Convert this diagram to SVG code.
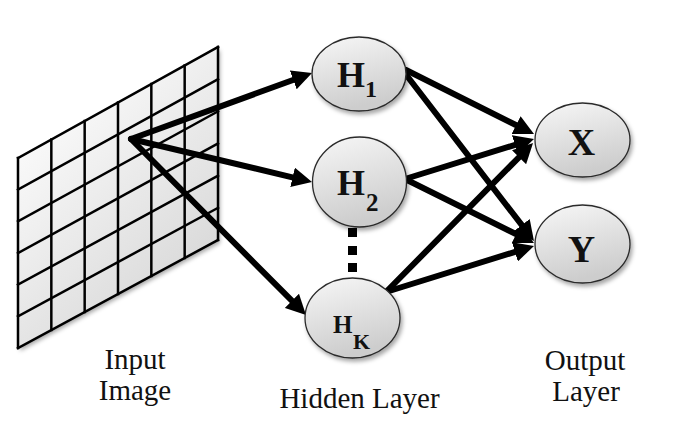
<svg xmlns="http://www.w3.org/2000/svg" width="674" height="448" viewBox="0 0 674 448">
  <defs>
    <linearGradient id="nodeFill" x1="0" y1="0" x2="0.3" y2="1">
      <stop offset="0" stop-color="#f7f7f7"/>
      <stop offset="1" stop-color="#cdcdcd"/>
    </linearGradient>
    <linearGradient id="gridFill" gradientUnits="userSpaceOnUse" x1="18" y1="100" x2="218" y2="300">
      <stop offset="0" stop-color="#ffffff"/>
      <stop offset="1" stop-color="#d4d4d4"/>
    </linearGradient>
    <filter id="shadow" x="-20%" y="-20%" width="150%" height="150%">
      <feDropShadow dx="2" dy="3" stdDeviation="2" flood-color="#000" flood-opacity="0.35"/>
    </filter>
    <marker id="arrow" markerUnits="userSpaceOnUse" markerWidth="20" markerHeight="20" refX="2" refY="10" orient="auto">
      <path d="M0,0 L20,10 L0,20 z" fill="#000"/>
    </marker>
  </defs>
  <style>
    .node { fill: url(#nodeFill); stroke: #2a2a2a; stroke-width: 1.3; filter: url(#shadow); }
    .lbl { font-family: "Liberation Serif", "Times New Roman", serif; font-weight: bold; fill: #111; }
    .cap { font-family: "Liberation Serif", "Times New Roman", serif; font-size: 29px; fill: #111; text-anchor: middle; }
    .edge { stroke: #000; stroke-width: 6; fill: none; stroke-linecap: round; marker-end: url(#arrow); }
    .gl { stroke: #000; stroke-width: 2.5; fill: none; stroke-linecap: square; }
  </style>

  <rect width="674" height="448" fill="#ffffff"/>

  <g id="input-image">
    <polygon points="18,158 218,47 218,240 18,348" fill="url(#gridFill)" filter="url(#shadow)"/>
    <g class="gl">
      <line x1="18" y1="158" x2="218" y2="47"/>
      <line x1="18" y1="189.67" x2="218" y2="79.17"/>
      <line x1="18" y1="221.33" x2="218" y2="111.33"/>
      <line x1="18" y1="253" x2="218" y2="143.5"/>
      <line x1="18" y1="284.67" x2="218" y2="175.67"/>
      <line x1="18" y1="316.33" x2="218" y2="207.83"/>
      <line x1="18" y1="348" x2="218" y2="240"/>
      <line x1="18" y1="158" x2="18" y2="348"/>
      <line x1="51.33" y1="139.5" x2="51.33" y2="330"/>
      <line x1="84.67" y1="121" x2="84.67" y2="312"/>
      <line x1="118" y1="102.5" x2="118" y2="294"/>
      <line x1="151.33" y1="84" x2="151.33" y2="276"/>
      <line x1="184.67" y1="65.5" x2="184.67" y2="258"/>
      <line x1="218" y1="47" x2="218" y2="240"/>
    </g>
  </g>

  <g id="connectors">
    <line class="edge" x1="131" y1="139" x2="295.1" y2="79.2"/>
    <line class="edge" x1="131" y1="139" x2="294.5" y2="177.8"/>
    <line class="edge" x1="131" y1="139" x2="293.3" y2="302.2"/>
    <line class="edge" x1="406" y1="70" x2="517.9" y2="126"/>
    <line class="edge" x1="404" y1="72" x2="523" y2="226.7"/>
    <line class="edge" x1="405" y1="179" x2="516.8" y2="144.3"/>
    <line class="edge" x1="405" y1="179" x2="517.9" y2="235"/>
    <line class="edge" x1="386" y1="292" x2="520.4" y2="155.8"/>
    <line class="edge" x1="386" y1="292" x2="516.8" y2="251.3"/>
  </g>

  <g id="H1">
    <ellipse class="node" cx="359" cy="74" rx="47" ry="37"/>
    <text class="lbl" x="337" y="87" font-size="36">H</text>
    <text class="lbl" x="365" y="97" font-size="24">1</text>
  </g>
  <g id="H2">
    <ellipse class="node" cx="359.5" cy="182" rx="47" ry="45"/>
    <text class="lbl" x="337" y="195" font-size="36">H</text>
    <text class="lbl" x="366" y="211" font-size="25">2</text>
  </g>
  <g id="dots">
    <rect x="348" y="228" width="9" height="9" fill="#000"/>
    <rect x="348" y="246" width="9" height="9" fill="#000"/>
    <rect x="348" y="263" width="9" height="9" fill="#000"/>
  </g>
  <g id="HK">
    <ellipse class="node" cx="352.5" cy="318" rx="47.5" ry="40"/>
    <text class="lbl" x="333" y="333" font-size="25">H</text>
    <text class="lbl" x="353" y="349" font-size="22">K</text>
  </g>
  <g id="X">
    <ellipse class="node" cx="582.5" cy="140" rx="47.5" ry="37"/>
    <text class="lbl" x="581.5" y="155" font-size="38" text-anchor="middle">X</text>
  </g>
  <g id="Y">
    <ellipse class="node" cx="582.5" cy="244" rx="47.5" ry="39"/>
    <text class="lbl" x="581.5" y="262" font-size="38" text-anchor="middle">Y</text>
  </g>

  <g id="captions">
    <text class="cap" x="135" y="369">Input</text>
    <text class="cap" x="135" y="400">Image</text>
    <text class="cap" x="359.5" y="408">Hidden Layer</text>
    <text class="cap" x="585" y="370">Output</text>
    <text class="cap" x="586" y="401">Layer</text>
  </g>
</svg>
